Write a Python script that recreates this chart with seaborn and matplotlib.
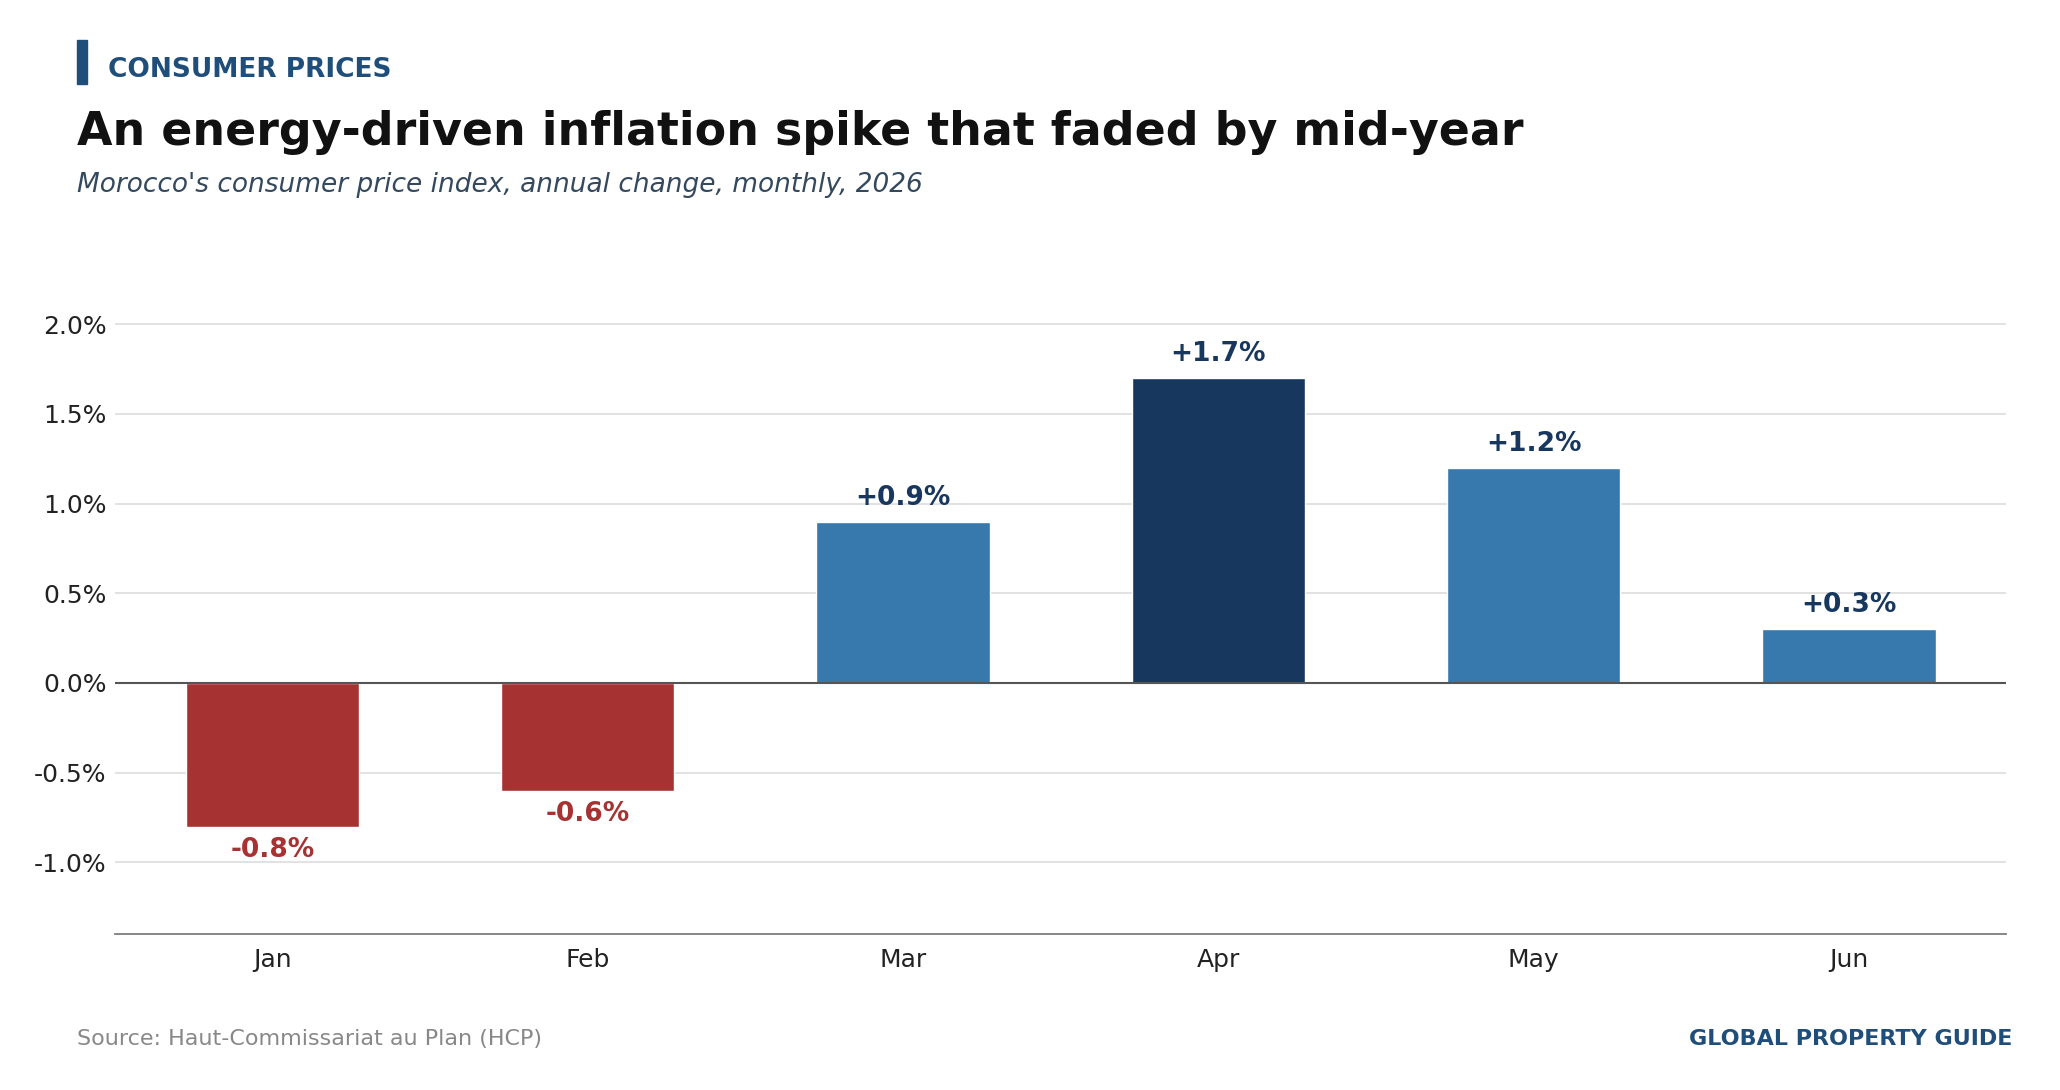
import matplotlib
matplotlib.use("Agg")
import matplotlib.pyplot as plt
import seaborn as sns
import pandas as pd
from matplotlib.patches import Rectangle

months = ["Jan", "Feb", "Mar", "Apr", "May", "Jun"]
values = [-0.8, -0.6, 0.9, 1.7, 1.2, 0.3]
colors = ["#A63232", "#A63232", "#3778AD", "#17375E", "#3778AD", "#3778AD"]
yticks = [-1.0, -0.5, 0.0, 0.5, 1.0, 1.5, 2.0]

sns.set_theme(style="white")
plt.rcParams['font.family'] = ['DejaVu Sans']

fig = plt.figure(figsize=(20.6, 10.9), dpi=100)
ax = fig.add_axes([0.0557, 0.143, 0.9183, 0.576])
df = pd.DataFrame({"month": months, "value": values})
sns.barplot(data=df, x="month", y="value", hue="month", palette=colors,
            legend=False, width=0.55, ax=ax, saturation=1)

ax.set_ylim(-1.4, 2.1)
ax.set_yticks(yticks)
ax.set_yticklabels([f"{t:.1f}%" for t in yticks], fontsize=18, color="#222222")
ax.tick_params(axis='x', labelsize=18, colors="#222222", length=0, pad=10)
ax.tick_params(axis='y', length=0, pad=6)
ax.set_xlabel(""); ax.set_ylabel("")
ax.yaxis.grid(True, color="#DDDDDD", linewidth=1.2)
ax.set_axisbelow(True)
for s in ["top", "right", "left"]:
    ax.spines[s].set_visible(False)
ax.spines["bottom"].set_color("#777777")
ax.axhline(0, color="#555555", linewidth=1.5)

for i, v in enumerate(values):
    if v >= 0:
        ax.text(i, v + 0.06, f"+{v:.1f}%", ha="center", va="bottom",
                fontsize=19, fontweight="bold", color="#17375E")
    else:
        ax.text(i, v - 0.06, f"{v:.1f}%", ha="center", va="top",
                fontsize=19, fontweight="bold", color="#A63232")

fig.add_artist(Rectangle((0.0375, 0.923), 0.0045, 0.040, transform=fig.transFigure,
                         color="#1F4E7A"))
fig.text(0.0524, 0.936, "CONSUMER PRICES", fontsize=19, fontweight="bold",
         color="#1F4E7A", va="center")
fig.text(0.0375, 0.878, "An energy-driven inflation spike that faded by mid-year",
         fontsize=33, fontweight="bold", color="#111111", va="center")
fig.text(0.0375, 0.830, "Morocco's consumer price index, annual change, monthly, 2026",
         fontsize=19, style="italic", color="#34495E", va="center")
fig.text(0.0375, 0.047, "Source: Haut-Commissariat au Plan (HCP)", fontsize=16,
         color="#888888", va="center")
fig.text(0.977, 0.047, "GLOBAL PROPERTY GUIDE", fontsize=16, fontweight="bold",
         color="#1F4E7A", va="center", ha="right")

fig.savefig("out.png", dpi=100)
